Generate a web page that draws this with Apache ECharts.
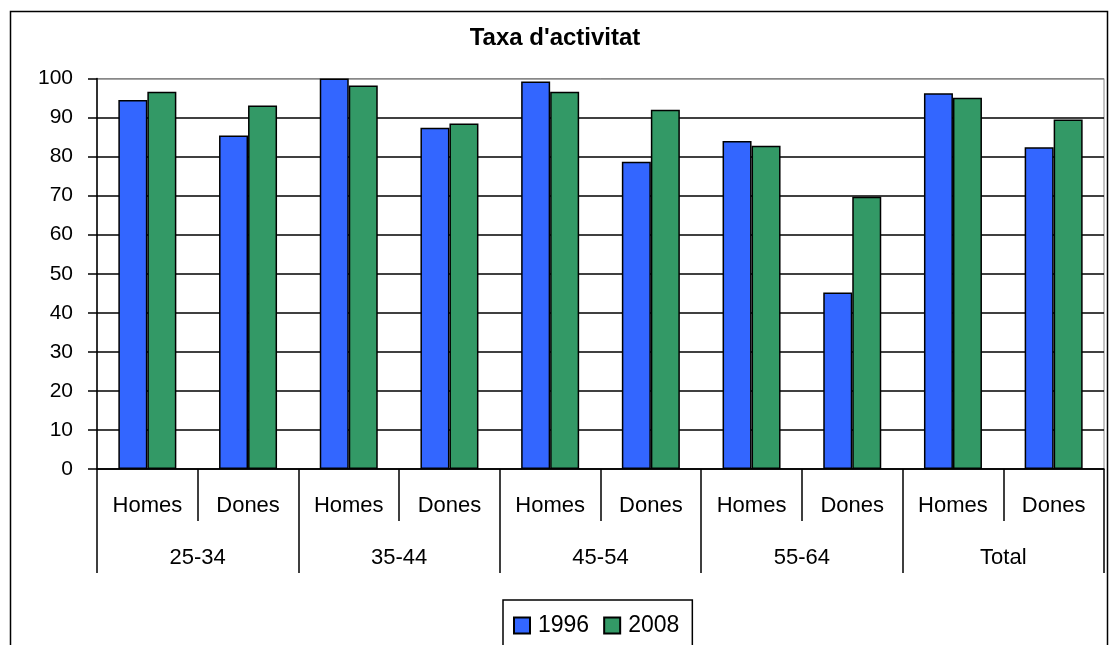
<!DOCTYPE html>
<html>
<head>
<meta charset="utf-8">
<script src="https://cdn.jsdelivr.net/npm/echarts@6/dist/echarts.min.js"></script>
<style>
  html, body { margin: 0; padding: 0; background: #fff; }
  #chart { width: 1110px; height: 645px; }
</style>
</head>
<body>
<div id="chart"></div>
<script>
// categories
var sexes = ['Homes', 'Dones', 'Homes', 'Dones', 'Homes', 'Dones', 'Homes', 'Dones', 'Homes', 'Dones'];
var ageGroups = ['25-34', '35-44', '45-54', '55-64', 'Total'];
var seriesNames = ['1996', '2008'];
// valors llegits del gràfic
var values1996 = [94.5, 85.4, 100, 87.4, 99.2, 78.7, 84.0, 45.2, 96.2, 82.4];
var values2008 = [96.6, 93.1, 98.2, 88.5, 96.6, 92.0, 82.8, 69.7, 95.1, 89.5];
var yTicks = [0, 10, 20, 30, 40, 50, 60, 70, 80, 90, 100];

var font = 'Liberation Sans, Arial, sans-serif';
var chart = echarts.init(document.getElementById('chart'));

// color de les línies de divisió: negre, l'última gris (vora de l'àrea)
var splitColors = yTicks.map(function (v, i) { return i === yTicks.length - 1 ? '#888' : '#000'; });

chart.setOption({
  animation: false,
  backgroundColor: '#fff',
  textStyle: { fontFamily: font, color: '#000' },
  title: {
    text: "Taxa d'activitat",
    left: 'center',
    top: 21,
    textStyle: { fontFamily: font, fontSize: 24, fontWeight: 'bold', color: '#000' }
  },
  graphic: [{
    type: 'rect',
    shape: { x: 10.5, y: 11.5, width: 1097, height: 660 },
    style: { fill: 'none', stroke: '#000', lineWidth: 1.5 },
    silent: true,
    z: -10
  }],
  legend: {
    data: seriesNames,
    left: 503,
    top: 600,
    icon: 'rect',
    itemWidth: 16,
    itemHeight: 16,
    itemGap: 14,
    borderColor: '#000',
    borderWidth: 1.5,
    padding: [14, 13, 24, 10],
    textStyle: { fontFamily: font, fontSize: 23, color: '#000', padding: [0, 0, 0, 3] }
  },
  grid: {
    left: 97,
    right: 6,
    top: 78.5,
    bottom: 176,
    show: true,
    borderColor: '#888',
    borderWidth: 1
  },
  xAxis: [{
    type: 'category',
    data: sexes,
    position: 'bottom',
    axisLine: { lineStyle: { color: '#000', width: 1.5 } },
    axisTick: { show: true, interval: 0, length: 52, lineStyle: { color: '#000', width: 1.5 } },
    axisLabel: { interval: 0, margin: 26, fontSize: 22, color: '#000', fontFamily: font }
  }, {
    type: 'category',
    data: ageGroups,
    position: 'bottom',
    axisLine: { show: false },
    axisTick: { show: true, interval: 0, length: 104, lineStyle: { color: '#000', width: 1.5 } },
    axisLabel: { interval: 0, margin: 78, fontSize: 22, color: '#000', fontFamily: font }
  }],
  yAxis: {
    type: 'value',
    min: yTicks[0],
    max: yTicks[yTicks.length - 1],
    interval: 10,
    axisLine: { show: true, lineStyle: { color: '#000', width: 1.5 } },
    axisTick: { show: true, length: 9, lineStyle: { color: '#000', width: 1.5 } },
    axisLabel: { margin: 24, fontSize: 21, color: '#000', fontFamily: font },
    splitLine: { show: true, lineStyle: { color: splitColors, width: 1.5 } }
  },
  series: [{
    name: seriesNames[0],
    type: 'bar',
    xAxisIndex: 0,
    data: values1996,
    barWidth: 29,
    barGap: '0%',
    itemStyle: { color: '#3366FF', borderColor: '#000', borderWidth: 1.5 }
  }, {
    name: seriesNames[1],
    type: 'bar',
    xAxisIndex: 0,
    data: values2008,
    barWidth: 29,
    barGap: '0%',
    itemStyle: { color: '#339966', borderColor: '#000', borderWidth: 1.5 }
  }]
});
</script>
</body>
</html>
